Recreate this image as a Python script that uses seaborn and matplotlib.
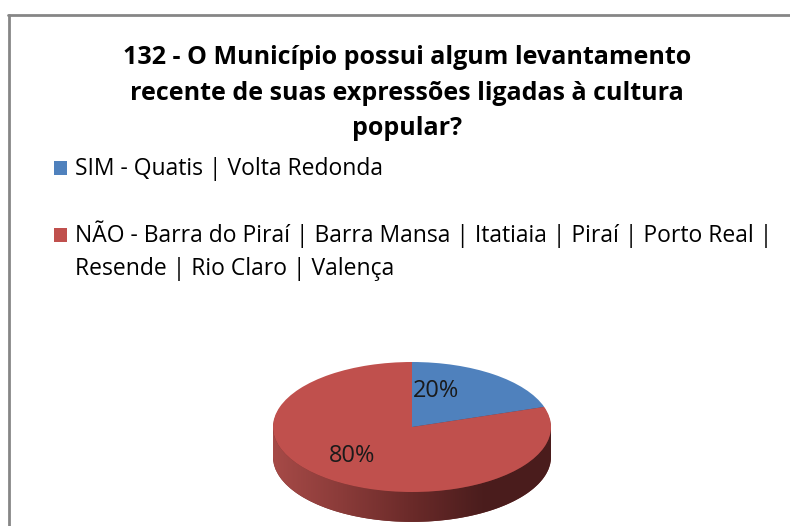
import numpy as np
import matplotlib
matplotlib.use("Agg")
import matplotlib.pyplot as plt
import seaborn as sns
from matplotlib.colors import LinearSegmentedColormap
from matplotlib.lines import Line2D
from matplotlib.patches import Polygon, Rectangle

# dados do grafico
titulo = "132 - O Município possui algum levantamento\nrecente de suas expressões ligadas à cultura\npopular?"
categorias = ["SIM - Quatis | Volta Redonda",
              "NÃO - Barra do Piraí | Barra Mansa | Itatiaia | Piraí | Porto Real |\nResende | Rio Claro | Valença"]
valores = [20, 80]
cores = ["#4f81bd", "#c0504d"]
cores_lado = ["#2f4d71", "#73302e"]

sns.set_theme(style="white")
plt.rcParams["font.family"] = ["Open Sans", "DejaVu Sans"]

W, H = 790, 526
fig = plt.figure(figsize=(W / 100, H / 100), dpi=100)
fig.patch.set_facecolor("white")

# moldura do grafico (so topo e esquerda visiveis)
fig.add_artist(Line2D([8 / W, 1], [1 - 15 / H, 1 - 15 / H], color="#868686", lw=2))
fig.add_artist(Line2D([9 / W, 9 / W], [0, 1 - 15 / H], color="#868686", lw=2))

fig.text(407 / W, 1 - 93 / H, titulo, ha="center", va="center", fontsize=18,
         fontweight="bold", color="black", linespacing=1.55)

# pizza 3D: topo em elipse, lateral desenhada deslocada para baixo
cx, cy, rx, ry = 412, 427, 139, 65
esp = 0.46  # espessura em unidades do raio
x0, x1 = -1.02, 1.02
y0, y1 = -1 - esp - 0.05, 1.02
ax = fig.add_axes([(cx + x0 * rx) / W, (H - (cy - y0 * ry)) / H,
                   (x1 - x0) * rx / W, (y1 - y0) * ry / H])

for k in np.linspace(esp, 0.02, 12):
    ax.pie(valores, colors=cores_lado, startangle=90, counterclock=False,
           center=(0, -k), radius=1, wedgeprops=dict(linewidth=0))

# gradiente na lateral
t = np.linspace(np.pi, 2 * np.pi, 100)
lado = np.vstack([np.column_stack([np.cos(t), np.sin(t)]),
                  np.column_stack([np.cos(t[::-1]), np.sin(t[::-1]) - esp])])
clip = Polygon(lado, closed=True, transform=ax.transData, facecolor="none", edgecolor="none")
ax.add_patch(clip)
cmap = LinearSegmentedColormap.from_list("lado", ["#a64a47", "#8a3b39", "#6a2a29", "#4b1d1d", "#4a1c1c"])
grad = np.linspace(0, 1, 256).reshape(1, -1)
im = ax.imshow(grad, cmap=cmap, extent=(-1, 1, -1 - esp, 0), aspect="auto", zorder=1)
im.set_clip_path(clip)

wedges, textos, autotextos = ax.pie(valores, colors=cores, startangle=90, counterclock=False,
                                    radius=1, autopct="%1.0f%%", pctdistance=0.6,
                                    wedgeprops=dict(linewidth=0),
                                    textprops=dict(fontsize=17, color="#1a1a1a"))
for w in wedges:
    w.set_zorder(3)
for a in autotextos:
    a.set_zorder(4)
autotextos[0].set_position((0.17, 0.55))
autotextos[1].set_position((-0.43, -0.45))

ax.set_xlim(x0, x1)
ax.set_ylim(y0, y1)
ax.set_aspect("auto")
ax.axis("off")

# legenda (marcador alinhado com a primeira linha do rotulo)
base = 175
for cor, rotulo in zip(cores, categorias):
    fig.patches.append(Rectangle((54 / W, 1 - base / H), 13 / W, 14 / H, transform=fig.transFigure,
                                 facecolor=cor, edgecolor="none"))
    for i, linha in enumerate(rotulo.split("\n")):
        fig.text(75 / W, 1 - (base + 33 * i) / H, linha, ha="left", va="baseline",
                 fontsize=16.5, color="black")
    base += 67

fig.savefig("out.png", dpi=100)
